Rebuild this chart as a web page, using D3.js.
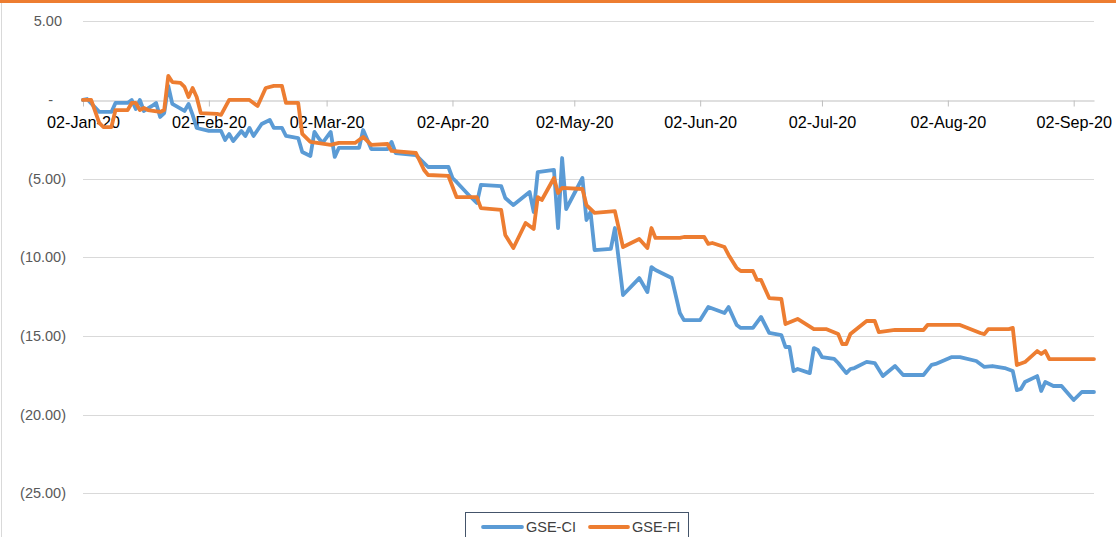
<!DOCTYPE html>
<html>
<head>
<meta charset="utf-8">
<script src="https://cdn.jsdelivr.net/npm/d3@7"></script>
<style>
  html, body { margin: 0; padding: 0; background: #ffffff; }
  svg { display: block; }
</style>
</head>
<body>
<svg id="chart" width="1116" height="537"></svg>
<script>
const ciDates = ["2020-01-02","2020-01-03","2020-01-06","2020-01-09","2020-01-10","2020-01-13","2020-01-14","2020-01-15","2020-01-16","2020-01-17","2020-01-19","2020-01-20","2020-01-21","2020-01-22","2020-01-23","2020-01-24","2020-01-27","2020-01-28","2020-01-29","2020-01-30","2020-02-02","2020-02-05","2020-02-06","2020-02-07","2020-02-08","2020-02-10","2020-02-11","2020-02-12","2020-02-13","2020-02-15","2020-02-17","2020-02-18","2020-02-20","2020-02-21","2020-02-24","2020-02-25","2020-02-27","2020-02-28","2020-02-29","2020-03-01","2020-03-03","2020-03-04","2020-03-05","2020-03-10","2020-03-11","2020-03-13","2020-03-17","2020-03-18","2020-03-19","2020-03-24","2020-03-27","2020-04-01","2020-04-02","2020-04-03","2020-04-06","2020-04-08","2020-04-09","2020-04-14","2020-04-15","2020-04-17","2020-04-21","2020-04-22","2020-04-23","2020-04-27","2020-04-28","2020-04-29","2020-04-30","2020-05-04","2020-05-05","2020-05-06","2020-05-07","2020-05-11","2020-05-12","2020-05-14","2020-05-18","2020-05-20","2020-05-21","2020-05-22","2020-05-26","2020-05-28","2020-05-29","2020-06-02","2020-06-04","2020-06-08","2020-06-09","2020-06-11","2020-06-12","2020-06-15","2020-06-17","2020-06-19","2020-06-22","2020-06-23","2020-06-24","2020-06-25","2020-06-26","2020-06-29","2020-06-30","2020-07-01","2020-07-02","2020-07-05","2020-07-06","2020-07-08","2020-07-09","2020-07-10","2020-07-13","2020-07-15","2020-07-17","2020-07-20","2020-07-22","2020-07-27","2020-07-29","2020-07-30","2020-08-03","2020-08-05","2020-08-09","2020-08-11","2020-08-13","2020-08-16","2020-08-18","2020-08-19","2020-08-20","2020-08-21","2020-08-24","2020-08-25","2020-08-26","2020-08-28","2020-08-30","2020-09-02","2020-09-04","2020-09-07"];
const ciValues = [0.00,0.06,-0.76,-0.76,-0.19,-0.19,0.00,-0.57,0.00,-0.70,-0.38,-0.19,-1.08,-0.83,0.89,-0.25,-0.70,-0.25,-0.95,-1.78,-1.97,-1.97,-2.54,-2.16,-2.61,-1.97,-2.29,-1.78,-2.29,-1.53,-1.27,-1.78,-1.78,-2.29,-2.42,-3.31,-3.56,-2.03,-2.42,-2.73,-2.03,-3.62,-3.05,-3.05,-1.91,-3.12,-3.12,-2.67,-3.37,-3.50,-4.26,-4.26,-4.96,-5.21,-6.04,-6.55,-5.40,-5.47,-6.23,-6.68,-5.85,-7.12,-4.58,-4.45,-8.14,-3.69,-6.93,-4.96,-7.63,-7.12,-9.54,-9.47,-8.14,-12.40,-11.32,-12.21,-10.62,-10.81,-11.32,-13.54,-13.99,-13.99,-13.16,-13.54,-13.16,-14.30,-14.49,-14.49,-13.79,-14.81,-14.94,-15.70,-15.70,-17.23,-17.10,-17.36,-15.77,-15.89,-16.34,-16.46,-16.72,-17.36,-17.10,-17.04,-16.65,-16.72,-17.55,-16.91,-17.48,-17.48,-16.84,-16.78,-16.34,-16.34,-16.59,-16.97,-16.91,-17.04,-17.23,-18.44,-18.37,-17.93,-17.55,-18.50,-17.93,-18.18,-18.18,-19.07,-18.56,-18.56];

const fiDates = ["2020-01-02","2020-01-04","2020-01-06","2020-01-07","2020-01-09","2020-01-10","2020-01-13","2020-01-14","2020-01-15","2020-01-16","2020-01-17","2020-01-18","2020-01-21","2020-01-22","2020-01-23","2020-01-24","2020-01-26","2020-01-27","2020-01-28","2020-01-29","2020-01-30","2020-01-31","2020-02-04","2020-02-05","2020-02-07","2020-02-12","2020-02-14","2020-02-16","2020-02-18","2020-02-20","2020-02-21","2020-02-24","2020-02-25","2020-02-27","2020-03-03","2020-03-05","2020-03-09","2020-03-11","2020-03-13","2020-03-17","2020-03-18","2020-03-24","2020-03-26","2020-03-27","2020-04-01","2020-04-03","2020-04-08","2020-04-09","2020-04-14","2020-04-15","2020-04-17","2020-04-20","2020-04-22","2020-04-23","2020-04-24","2020-04-27","2020-04-28","2020-04-29","2020-05-04","2020-05-05","2020-05-07","2020-05-12","2020-05-14","2020-05-18","2020-05-20","2020-05-21","2020-05-22","2020-05-28","2020-05-29","2020-06-03","2020-06-04","2020-06-05","2020-06-08","2020-06-09","2020-06-11","2020-06-12","2020-06-15","2020-06-16","2020-06-17","2020-06-19","2020-06-22","2020-06-23","2020-06-26","2020-06-30","2020-07-03","2020-07-06","2020-07-07","2020-07-08","2020-07-09","2020-07-13","2020-07-15","2020-07-16","2020-07-20","2020-07-27","2020-07-28","2020-08-05","2020-08-10","2020-08-11","2020-08-12","2020-08-17","2020-08-18","2020-08-19","2020-08-21","2020-08-24","2020-08-25","2020-08-26","2020-08-27","2020-09-07"];
const fiValues = [0.00,0.00,-1.46,-1.72,-1.72,-0.64,-0.64,-0.19,-0.19,-0.64,-0.51,-0.64,-0.76,-0.64,1.53,1.14,1.08,0.83,0.19,0.76,0.19,-0.83,-0.89,-0.95,0.00,0.00,-0.38,0.76,0.89,0.89,-0.19,-0.19,-2.16,-2.67,-2.86,-2.73,-2.73,-2.35,-2.86,-2.80,-3.24,-3.37,-4.45,-4.77,-4.83,-6.17,-6.17,-6.87,-6.99,-8.58,-9.41,-7.82,-8.20,-6.17,-6.36,-4.96,-5.91,-5.59,-5.66,-6.68,-7.18,-7.06,-9.35,-8.84,-9.41,-8.14,-8.77,-8.77,-8.71,-8.71,-9.15,-9.09,-9.35,-9.85,-10.68,-10.87,-10.87,-11.44,-11.44,-12.59,-12.65,-14.24,-13.92,-14.56,-14.56,-14.88,-15.51,-15.51,-14.88,-14.05,-14.05,-14.75,-14.62,-14.62,-14.30,-14.30,-14.81,-14.88,-14.56,-14.56,-14.49,-16.85,-16.66,-15.96,-16.15,-15.96,-16.47,-16.47];

const seriesNames = ["GSE-CI", "GSE-FI"];
const seriesColors = ["#5b9bd5", "#ed7d31"];
const xTickDates = ["2020-01-02","2020-02-02","2020-03-02","2020-04-02","2020-05-02","2020-06-02","2020-07-02","2020-08-02","2020-09-02"];
const yTickValues = [5, 0, -5, -10, -15, -20, -25];
const yTickLabels = ["5.00", "-", "(5.00)", "(10.00)", "(15.00)", "(20.00)", "(25.00)"];

const parse = d3.utcParse("%Y-%m-%d");
const svg = d3.select("#chart");
const W = 1116, H = 537;
const FONT = "'Liberation Sans', Arial, sans-serif";

// frame
svg.append("rect").attr("x", 0).attr("y", 0).attr("width", W).attr("height", 3).attr("fill", "#ed7d31");
svg.append("line").attr("x1", 1.5).attr("x2", 1.5).attr("y1", 3).attr("y2", H).attr("stroke", "#d9d9d9").attr("stroke-width", 1);

const x = d3.scaleUtc()
  .domain([parse("2020-01-02"), parse("2020-09-07")])
  .range([83, 1094]);
const y = d3.scaleLinear().domain([-25, 5]).range([493.3, 21.3]);

// gridlines
const grid = svg.append("g").attr("class", "grid");
grid.selectAll("line").data(yTickValues.filter(v => v !== 0)).join("line")
  .attr("x1", 83).attr("x2", 1094)
  .attr("y1", d => Math.round(y(d)) + 0.5).attr("y2", d => Math.round(y(d)) + 0.5)
  .attr("stroke", "#d9d9d9").attr("stroke-width", 1);

// y labels
const yl = svg.append("g").attr("class", "ylabels")
  .style("font-family", FONT).style("font-size", "14.5px").attr("fill", "#595959");
yl.selectAll("text").data(yTickValues).join("text")
  .attr("x", (d, i) => yTickLabels[i].startsWith("(") ? 66 : (yTickLabels[i] === "-" ? 53 : 62))
  .attr("y", d => y(d) + 5)
  .attr("text-anchor", "end")
  .text((d, i) => yTickLabels[i]);

// x axis at zero
const xAxis = d3.axisBottom(x)
  .tickValues(xTickDates.map(parse))
  .tickFormat(d3.utcFormat("%d-%b-%y"))
  .tickSizeInner(6).tickSizeOuter(0).tickPadding(10);
const gx = svg.append("g").attr("transform", `translate(0,${Math.round(y(0)) + 0.5})`).call(xAxis);
gx.select(".domain").attr("stroke", "#bfbfbf").attr("stroke-width", 1);
gx.selectAll(".tick line").attr("stroke", "#bfbfbf");
gx.selectAll(".tick text")
  .style("font-family", FONT).style("font-size", "16.2px").attr("fill", "#000000");

// lines
const line = d3.line().x(d => x(d.date)).y(d => y(d.value)).curve(d3.curveLinear);
const ciData = ciDates.map((d, i) => ({ date: parse(d), value: ciValues[i] }));
const fiData = fiDates.map((d, i) => ({ date: parse(d), value: fiValues[i] }));
[ciData, fiData].forEach((data, i) => {
  svg.append("path").datum(data)
    .attr("fill", "none").attr("stroke", seriesColors[i]).attr("stroke-width", 3.8)
    .attr("stroke-linejoin", "round").attr("stroke-linecap", "round")
    .attr("d", line);
});

// legend
const lg = svg.append("g").attr("class", "legend");
lg.append("rect").attr("x", 465.5).attr("y", 512.5).attr("width", 223).attr("height", 40)
  .attr("fill", "#ffffff").attr("stroke", "#44546a").attr("stroke-width", 1);
const items = [{ x1: 483, x2: 522, tx: 526 }, { x1: 590, x2: 628, tx: 632 }];
items.forEach((it, i) => {
  lg.append("line").attr("x1", it.x1).attr("x2", it.x2).attr("y1", 527).attr("y2", 527)
    .attr("stroke", seriesColors[i]).attr("stroke-width", 3.8).attr("stroke-linecap", "round");
  lg.append("text").attr("x", it.tx).attr("y", 532)
    .style("font-family", FONT).style("font-size", "14.5px")
    .attr("fill", "#404040").text(seriesNames[i]);
});
</script>
</body>
</html>
